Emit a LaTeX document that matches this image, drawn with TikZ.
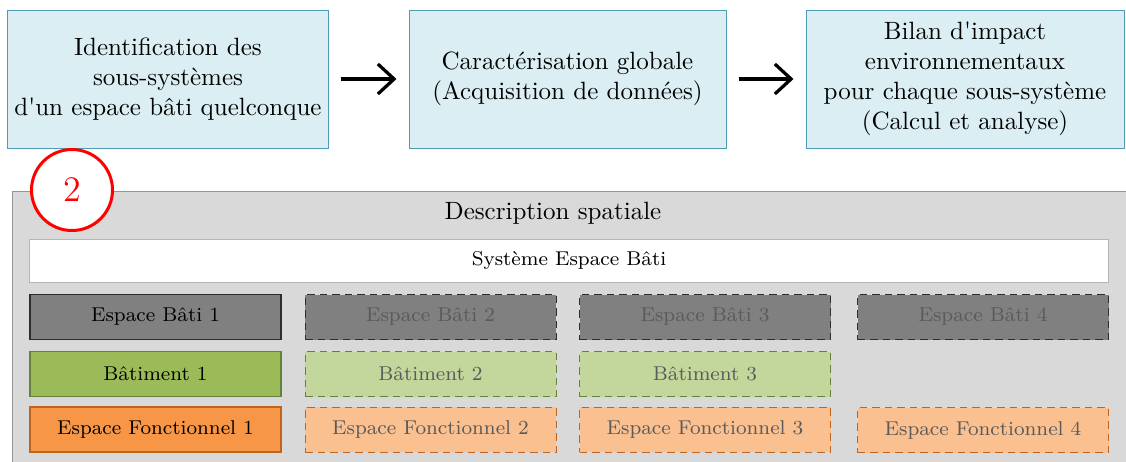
\documentclass[tikz,border=0pt]{standalone}
\usepackage{tikz}
\usetikzlibrary{arrows.meta}

\definecolor{stepfill}{RGB}{218,238,243}
\definecolor{stepline}{RGB}{80,155,180}
\definecolor{panelfill}{RGB}{217,217,217}
\definecolor{panelline}{RGB}{150,150,150}
\definecolor{ebfill}{RGB}{128,128,128}
\definecolor{ebline}{RGB}{45,45,45}
\definecolor{batfill}{RGB}{155,187,89}
\definecolor{batfaded}{RGB}{195,214,155}
\definecolor{batline}{RGB}{100,130,60}
\definecolor{effill}{RGB}{247,150,70}
\definecolor{effaded}{RGB}{250,192,144}
\definecolor{efline}{RGB}{190,100,30}
\definecolor{fadedtext}{RGB}{90,90,90}

\begin{document}
\begin{tikzpicture}[x=0.4pt,y=-0.4pt,
    every node/.style={font=\normalsize},
    stepbox/.style={draw=stepline,fill=stepfill,align=center,
      minimum height=55.2pt,inner sep=0pt},
    nextstep/.style={-{Straight Barb[length=6.5pt,width=12pt]},line width=1.3pt,
      shorten >=12pt*0.4,shorten <=12pt*0.4},
    subbox/.style={minimum width=100.4pt,minimum height=18pt,inner sep=0pt,
      font=\footnotesize},
    active/.style={subbox,draw,semithick},
    faded/.style={subbox,draw,densely dashed,thin,text=fadedtext}]
    \useasboundingbox (0,0) rectangle (1126,461);

    % steps
    \node[stepbox,minimum width=128pt] (ident) at (168,79)
      {Identification des\\sous-systèmes\\d\textquotesingle un espace bâti quelconque};
    \node[stepbox,minimum width=126.8pt] (carac) at (567.5,79)
      {Caractérisation globale\\(Acquisition de données)};
    \node[stepbox,minimum width=127.2pt] (bilan) at (965,79)
      {Bilan d\textquotesingle impact\\environnementaux\\pour chaque sous-système\\(Calcul et analyse)};
    \draw[nextstep] (ident) -- (carac);
    \draw[nextstep] (carac) -- (bilan);

    % spatial description
    \draw[panelline,fill=panelfill] (12,191) rectangle (1140,470);
    \node (titre) at (553,213) {Description spatiale};
    \node[draw=panelline!70,fill=white,minimum width=431.2pt,minimum height=17.2pt,
      inner sep=0pt,font=\footnotesize] (systeme) at (569,260.5) {Système Espace Bâti};

    \node[active,fill=ebfill,draw=ebline] (eb1) at (155.5,317) {Espace Bâti 1};
    \node[faded,fill=ebfill,draw=ebline] (eb2) at (430.5,317) {Espace Bâti 2};
    \node[faded,fill=ebfill,draw=ebline] (eb3) at (705,317) {Espace Bâti 3};
    \node[faded,fill=ebfill,draw=ebline] (eb4) at (983,317) {Espace Bâti 4};

    \node[active,fill=batfill,draw=batline] (bat1) at (155.5,374) {Bâtiment 1};
    \node[faded,fill=batfaded,draw=batline] (bat2) at (430.5,374) {Bâtiment 2};
    \node[faded,fill=batfaded,draw=batline] (bat3) at (705,374) {Bâtiment 3};

    \node[active,fill=effill,draw=efline] (ef1) at (155.5,429.5) {Espace Fonctionnel 1};
    \node[faded,fill=effaded,draw=efline] (ef2) at (430.5,429.5) {Espace Fonctionnel 2};
    \node[faded,fill=effaded,draw=efline] (ef3) at (705,429.5) {Espace Fonctionnel 3};
    \node[faded,fill=effaded,draw=efline] (ef4) at (983,430) {Espace Fonctionnel 4};

    % step number
    \node[circle,draw=red,line width=1.2pt,fill=white,text=red,minimum size=32.4pt,
      inner sep=0pt,font=\Large] (num) at (72,190) {2};
  \end{tikzpicture}
\end{document}
